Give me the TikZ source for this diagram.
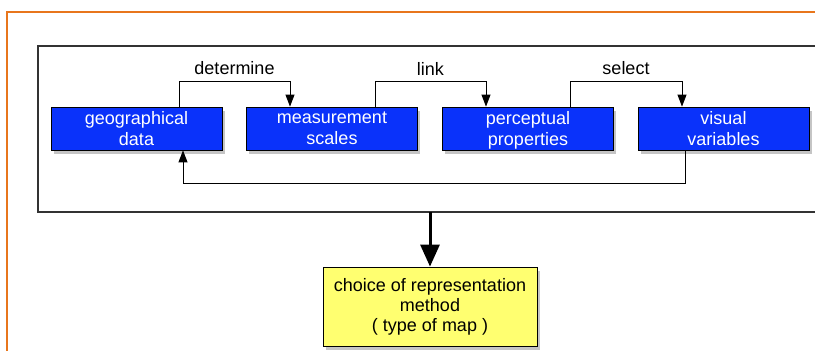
\documentclass[tikz,border=0pt]{standalone}
\usepackage{fontspec}
\setmainfont{Liberation Sans}
\usetikzlibrary{arrows.meta, shadows}
\definecolor{boxBlue}{RGB}{10,50,250}
\definecolor{boxYellow}{RGB}{255,255,112}
\definecolor{frameOrange}{RGB}{232,118,28}
\def\rise{25}

\begin{document}
\begin{tikzpicture}[x=1pt, y=-1pt,
    blueBox/.style={draw=black, line width=0.8pt, fill=boxBlue, text=white,
        align=center, minimum width=171pt, minimum height=43pt, inner sep=0pt,
        font=\fontsize{18}{21}\selectfont,
        drop shadow={shadow xshift=2.5pt, shadow yshift=-3.5pt, opacity=0.5, fill=black!45}},
    yellowBox/.style={draw=black, line width=0.8pt, fill=boxYellow,
        align=center, minimum width=214pt, minimum height=79pt, inner sep=0pt,
        font=\fontsize{18}{20}\selectfont,
        drop shadow={shadow xshift=2.5pt, shadow yshift=-3.5pt, opacity=0.5, fill=black!45}},
    link/.style={line width=0.9pt, -{Triangle[width=9pt, length=12pt]}},
    verb/.style={above=4pt, inner sep=2pt, font=\fontsize{18}{21}\selectfont}]
    \useasboundingbox (0,0) rectangle (815,351);

    \draw [frameOrange, line width=1.3pt] (7,351) -- (7,12) -- (815,12);
    \coordinate (frameTL) at (38,46);
    \coordinate (frameBL) at (38,212);
    \coordinate (frameBot) at (430,212);
    \draw [black!80, line width=1.1pt] (815,46) -- (frameTL) -- (frameBL) -- (815,212);

    \node [blueBox] (geoData) at (136.5,128.5) {geographical\\data};
    \node [blueBox] (measScales) at (332,128.5) {measurement\\scales};
    \node [blueBox] (percProps) at (528,128.5) {perceptual\\\smash{properties}};
    \node [blueBox] (visVars) at (723.5,128.5) {visual\\variables};
    \node [yellowBox] (choice) at (430,306.5) {choice of representation\\method\\( type of map )};

    \draw [link] ([xshift=42.5pt]geoData.north) -- ++(0,-\rise) -| node [verb, pos=0.25] {determine} ([xshift=-42pt]measScales.north);
    \draw [link] ([xshift=43pt]measScales.north) -- ++(0,-\rise) -| node [verb, pos=0.25] {link} ([xshift=-42pt]percProps.north);
    \draw [link] ([xshift=42pt]percProps.north) -- ++(0,-\rise) -| node [verb, pos=0.25] {select} ([xshift=-41.5pt]visVars.north);
    \draw [link] ([xshift=-38.5pt]visVars.south) -- ++(0,33) -| ([xshift=46.5pt]geoData.south);

    \draw [line width=3pt, -{Triangle[width=19pt, length=22pt]}] (frameBot) -- (choice.north);
\end{tikzpicture}
\end{document}
